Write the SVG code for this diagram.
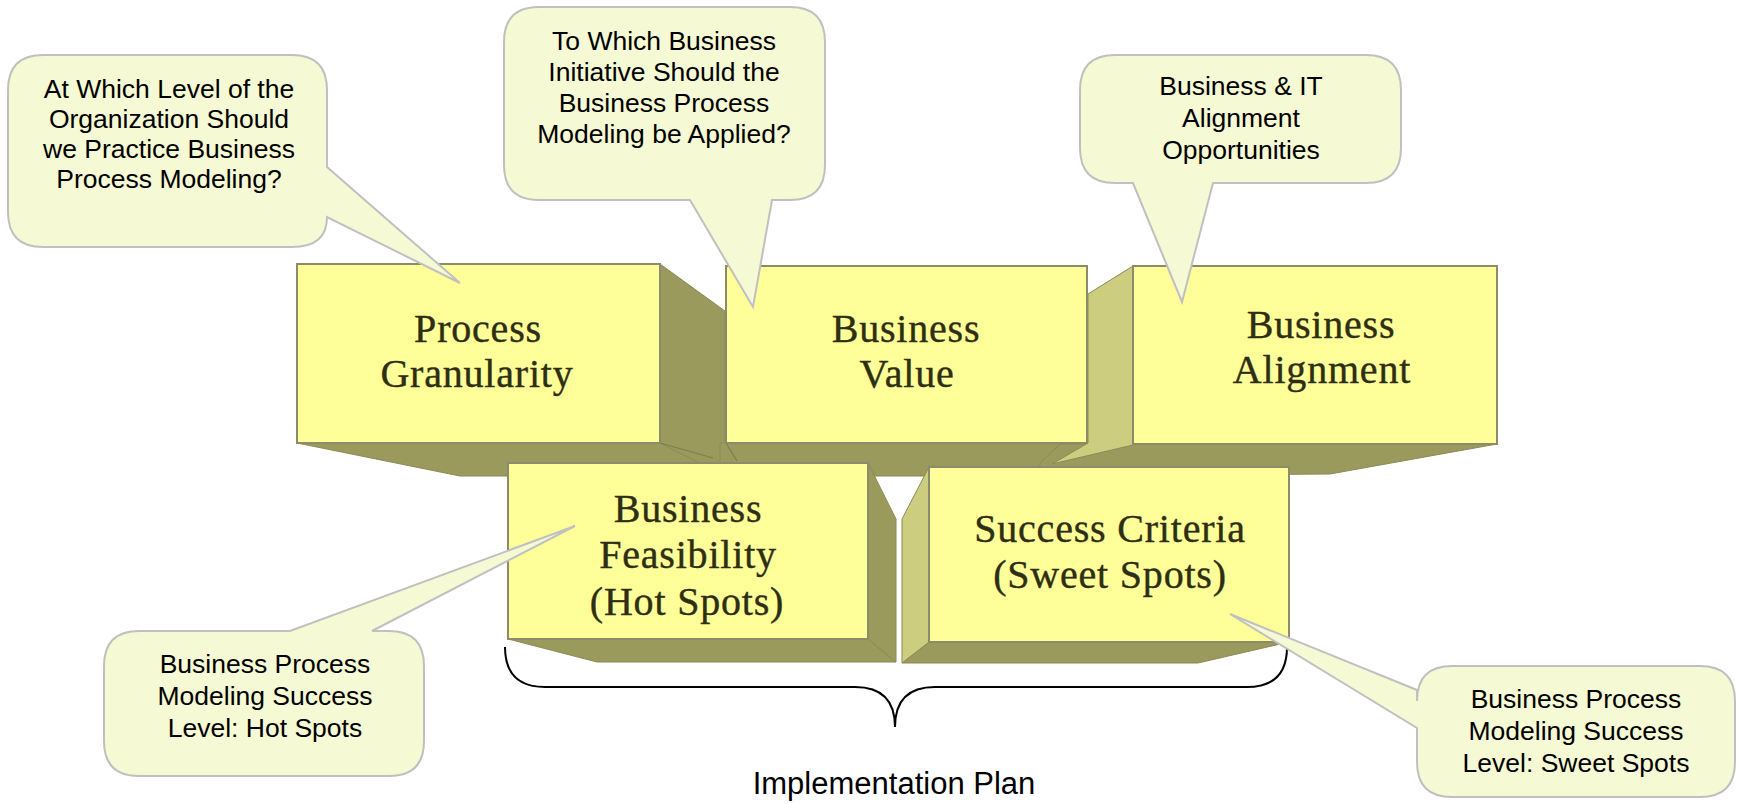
<svg xmlns="http://www.w3.org/2000/svg" width="1738" height="804" viewBox="0 0 1738 804">
<style>
.front{fill:#ffff99;stroke:#8c8c6c;stroke-width:2}
.dark{fill:#9a9a5c;stroke:#8a8a5a;stroke-width:1}
.light{fill:#cdcd7f;stroke:#8a8a5a;stroke-width:1}
.edge{fill:none;stroke:#7d7d52;stroke-width:1.2}
.bt{font-family:"Liberation Serif","Times New Roman",serif;font-size:40px;fill:#2e2e12;stroke:#2e2e12;stroke-width:0.4;text-anchor:middle;letter-spacing:0.8px}
.call{fill:#f5f9d4;stroke:#c0c0c0;stroke-width:2}
.ct{font-family:"Liberation Sans",Arial,sans-serif;font-size:26.5px;fill:#000;text-anchor:middle}
.cap{font-family:"Liberation Sans",Arial,sans-serif;font-size:31px;fill:#000;text-anchor:middle}
.brace{fill:none;stroke:#000;stroke-width:2}
</style>
<rect width="1738" height="804" fill="#ffffff"/>

<g id="node-process-granularity">
<polygon class="dark" points="297,443 660,443 740,476 460,476"/>
<polygon class="dark" points="660,264 725,311 725,476 660,443"/>
<line class="edge" x1="660" y1="443" x2="713" y2="458"/>
<rect class="front" x="297" y="264" width="363" height="179"/>
<text class="bt" x="478" y="342">Process</text>
<text class="bt" x="477" y="387">Granularity</text>
</g>

<g id="node-business-value">
<polygon class="dark" points="720,443 1092,443 1092,476 720,476"/>
<line class="edge" x1="726" y1="443" x2="737" y2="461"/>
<line class="edge" x1="1087" y1="443" x2="1062" y2="462"/>
<rect class="front" x="726" y="266" width="361" height="177"/>
<text class="bt" x="906" y="342">Business</text>
<text class="bt" x="907" y="387">Value</text>
</g>

<g id="node-business-alignment">
<polygon class="dark" points="1060,444 1497,444 1330,474 1040,476 1040,463"/>
<polygon class="light" points="1133,266 1088,294 1088,443 1052,464 1133,445"/>
<rect class="front" x="1133" y="266" width="364" height="178"/>
<text class="bt" x="1321" y="338">Business</text>
<text class="bt" x="1322" y="383">Alignment</text>
</g>

<g id="node-business-feasibility">
<polygon class="dark" points="508,639 868,639 896,662 597,662"/>
<polygon class="dark" points="868,463 896,519 896,662 868,639"/>
<rect class="front" x="508" y="463" width="360" height="176"/>
<text class="bt" x="688" y="522">Business</text>
<text class="bt" x="688" y="568">Feasibility</text>
<text class="bt" x="687" y="615">(Hot Spots)</text>
</g>

<g id="node-success-criteria">
<polygon class="dark" points="929,642 1289,642 1198,663 902,663"/>
<polygon class="light" points="929,467 902,519 902,663 929,642"/>
<rect class="front" x="929" y="467" width="360" height="175"/>
<text class="bt" x="1110" y="542">Success Criteria</text>
<text class="bt" x="1110" y="588">(Sweet Spots)</text>
</g>

<g id="connectors">
<path class="brace" d="M505,647 Q505,687 545,687 L855,687 Q895,687 895,727 Q895,687 935,687 L1247,687 Q1287,687 1287,647"/>
</g>

<g id="callout-level">
<path class="call" d="M43,55 H292 Q327,55 327,90 V167 L460,283 L327,217 Q327,247 292,247 H43 Q8,247 8,212 V90 Q8,55 43,55 Z"/>
<text class="ct" x="169" y="98">At Which Level of the</text>
<text class="ct" x="169" y="128">Organization Should</text>
<text class="ct" x="169" y="158">we Practice Business</text>
<text class="ct" x="169" y="188">Process Modeling?</text>
</g>

<g id="callout-initiative">
<path class="call" d="M539,7 H790 Q825,7 825,42 V165 Q825,200 790,200 H772 L753,307 L690,200 H539 Q504,200 504,165 V42 Q504,7 539,7 Z"/>
<text class="ct" x="664" y="50">To Which Business</text>
<text class="ct" x="664" y="81">Initiative Should the</text>
<text class="ct" x="664" y="112">Business Process</text>
<text class="ct" x="664" y="143">Modeling be Applied?</text>
</g>

<g id="callout-alignment">
<path class="call" d="M1115,55 H1366 Q1401,55 1401,90 V148 Q1401,183 1366,183 H1213 L1182,302 L1133,183 H1115 Q1080,183 1080,148 V90 Q1080,55 1115,55 Z"/>
<text class="ct" x="1241" y="95">Business &amp; IT</text>
<text class="ct" x="1241" y="127">Alignment</text>
<text class="ct" x="1241" y="159">Opportunities</text>
</g>

<g id="callout-hot-spots">
<path class="call" d="M139,631 H290 L575,526 L372,631 H389 Q424,631 424,666 V741 Q424,776 389,776 H139 Q104,776 104,741 V666 Q104,631 139,631 Z"/>
<text class="ct" x="265" y="673">Business Process</text>
<text class="ct" x="265" y="705">Modeling Success</text>
<text class="ct" x="265" y="737">Level: Hot Spots</text>
</g>

<g id="callout-sweet-spots">
<path class="call" d="M1452,666 H1700 Q1735,666 1735,701 V762 Q1735,797 1700,797 H1452 Q1417,797 1417,762 V728 L1230,614 L1417,690 V701 Q1417,666 1452,666 Z"/>
<text class="ct" x="1576" y="708">Business Process</text>
<text class="ct" x="1576" y="740">Modeling Success</text>
<text class="ct" x="1576" y="772">Level: Sweet Spots</text>
</g>

<g id="caption">
<text class="cap" x="894" y="794">Implementation Plan</text>
</g>
</svg>
